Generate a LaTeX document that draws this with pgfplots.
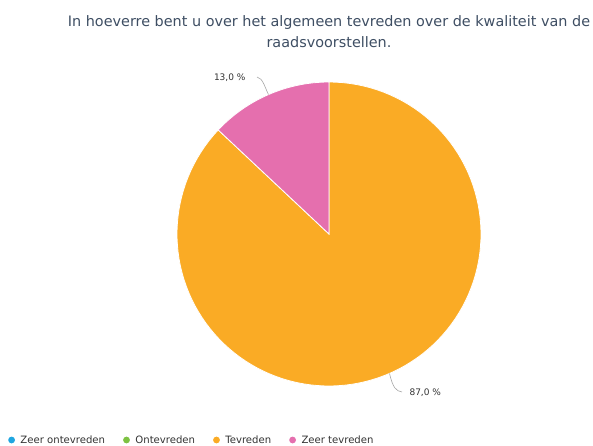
\documentclass[border=0pt]{standalone}
\usepackage{pgfplots}
\pgfplotsset{compat=1.18}
\usepackage{pgfplotstable}
\usepackage{fontspec}
\setmainfont{DejaVu Sans}
\definecolor{cZO}{HTML}{1FA6E0}
\definecolor{cO}{HTML}{7DC242}
\definecolor{cT}{HTML}{FAAB25}
\definecolor{cZT}{HTML}{E56FAE}
\definecolor{titlec}{HTML}{3E4E63}
\definecolor{labc}{HTML}{333333}
\pgfplotstableread{
label value
ZeerOntevreden 0
Ontevreden 0
Tevreden 87
ZeerTevreden 13
}\piedata
\pgfplotstablegetelem{3}{value}\of\piedata
\let\vZT=\pgfplotsretval
\pgfplotstablegetelem{2}{value}\of\piedata
\let\vT=\pgfplotsretval
\pgfmathsetmacro\aA{90}
\pgfmathsetmacro\aB{90+3.6*\vZT}
\pgfmathsetmacro\aC{\aB+3.6*\vT}
\begin{document}
\begin{tikzpicture}
\begin{axis}[
  width=593pt,height=446pt,scale only axis,
  xmin=0,xmax=593,ymin=0,ymax=446,y dir=reverse,
  hide axis, clip=false,
  legend columns=4,
  legend style={at={(axis cs:5,440)},anchor=west,draw=none,fill=none,
    font=\fontsize{10.1}{11}\selectfont\color{labc},
    /tikz/every even column/.append style={column sep=16pt},
    /tikz/every odd column/.append style={column sep=3.5pt}},
  legend image code/.code={\fill[draw=none] (0pt,0pt) circle (3.4pt);},
]
\addlegendimage{fill=cZO,draw=none}
\addlegendentry{Zeer ontevreden}
\addlegendimage{fill=cO,draw=none}
\addlegendentry{Ontevreden}
\addplot[fill=cT,draw=white,line width=0.8pt,domain=\aB:\aC,samples=120]
  ({329+152*cos(x)},{234-152*sin(x)}) -- (axis cs:329,234) -- cycle;
\addlegendentry{Tevreden}
\addplot[fill=cZT,draw=white,line width=0.8pt,domain=\aA:\aB,samples=40]
  ({329+152*cos(x)},{234-152*sin(x)}) -- (axis cs:329,234) -- cycle;
\addlegendentry{Zeer tevreden}
\draw[gray!70,line width=0.6pt] (axis cs:257,77) .. controls (axis cs:263,78) and (axis cs:265,88) .. (axis cs:268.5,94.5);
\draw[gray!70,line width=0.6pt] (axis cs:389.5,373.5) .. controls (axis cs:393,388) and (axis cs:396,391) .. (axis cs:402,392);
\node[font=\fontsize{9}{10}\selectfont,text=labc,anchor=east] at (axis cs:249,78) {13,0 \%};
\node[font=\fontsize{9}{10}\selectfont,text=labc,anchor=west] at (axis cs:406,393) {87,0 \%};
\node[font=\fontsize{14.4}{21}\selectfont,text=titlec,align=center,anchor=north] at (axis cs:329,12)
  {In hoeverre bent u over het algemeen tevreden over de kwaliteit van de\\raadsvoorstellen.};
\end{axis}
\pgfresetboundingbox
\path (current axis.south west) rectangle (current axis.north east);
\end{tikzpicture}
\end{document}
